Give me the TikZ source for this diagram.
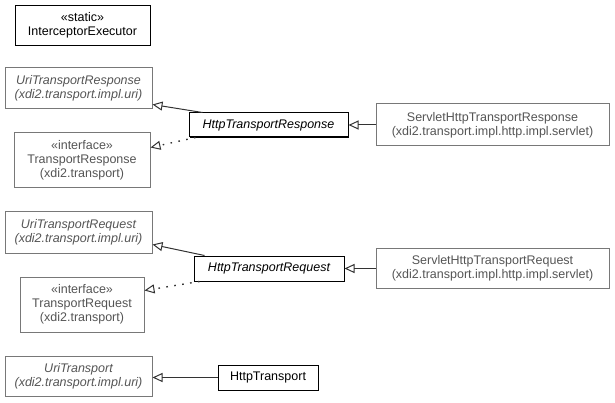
\documentclass[tikz,border=0pt]{standalone}
\usepackage{fontspec}
\setmainfont{Liberation Sans}
\usepackage{tikz}
\definecolor{lightline}{RGB}{120, 120, 120}
\definecolor{lighttext}{RGB}{85, 85, 85}
\usetikzlibrary{arrows.meta, positioning, calc, shadows}

\begin{document}
\begin{tikzpicture}[x=1pt, y=-1pt,
    box/.style={draw=black, line width=1pt, fill=white, inner sep=0pt,
                align=center, font=\fontsize{12.5}{14}\selectfont,
                drop shadow={shadow xshift=1pt, shadow yshift=-1pt, fill=black, opacity=1}},
    extbox/.style={draw=lightline, line width=1pt, fill=white, inner sep=0pt,
                align=center, text=lighttext, font=\fontsize{12.5}{14}\selectfont},
    inherit/.style={-{Triangle[open, length=10pt, width=9pt, line width=1pt]}, line width=1pt, draw=black!80},
    realize/.style={inherit, dash pattern=on 1.6pt off 6.4pt, line width=1.4pt}
]
    \useasboundingbox (0,0) rectangle (615,403);

    \node[box, minimum width=135pt, minimum height=40pt] (interceptor) at (82.5,25.5) {«static»\\InterceptorExecutor};

    % response
    \node[extbox, minimum width=147pt, minimum height=41pt] (uriresp) at (78.5,88.5) {\itshape UriTransportResponse\\\itshape (xdi2.transport.impl.uri)};
    \node[box, minimum width=159pt, minimum height=24pt] (httpresp) at (268.5,125) {\itshape HttpTransportResponse};
    \node[extbox, minimum width=233pt, minimum height=42pt] (servletresp) at (492.5,125) {ServletHttpTransportResponse\\(xdi2.transport.impl.http.impl.servlet)};
    \node[extbox, minimum width=136pt, minimum height=55pt] (iresp) at (82,160.5) {«interface»\\TransportResponse\\(xdi2.transport)};

    \draw[inherit] ([xshift=14pt]httpresp.north west) -- ([yshift=5pt]uriresp.south east);
    \draw[realize] ([xshift=7pt]httpresp.south west) -- ([yshift=13pt]iresp.east);
    \draw[inherit] (servletresp) -- (httpresp);

    % request
    \node[extbox, minimum width=147pt, minimum height=41pt] (urireq) at (78.5,232.5) {\itshape UriTransportRequest\\\itshape (xdi2.transport.impl.uri)};
    \node[box, minimum width=150pt, minimum height=25pt] (httpreq) at (269,268.5) {\itshape HttpTransportRequest};
    \node[extbox, minimum width=233pt, minimum height=40pt] (servletreq) at (492.5,268.5) {ServletHttpTransportRequest\\(xdi2.transport.impl.http.impl.servlet)};
    \node[extbox, minimum width=124pt, minimum height=55pt] (ireq) at (82,304.5) {«interface»\\TransportRequest\\(xdi2.transport)};

    \draw[inherit] ([xshift=11pt]httpreq.north west) -- ([yshift=9pt]urireq.south east);
    \draw[realize] ([xshift=6pt]httpreq.south west) -- ([yshift=14pt]ireq.east);
    \draw[inherit] (servletreq) -- (httpreq);

    % transport
    \node[extbox, minimum width=147pt, minimum height=40pt] (uri) at (78.5,376) {\itshape UriTransport\\\itshape (xdi2.transport.impl.uri)};
    \node[box, minimum width=100pt, minimum height=25pt] (http) at (268,377.5) {HttpTransport};

    \draw[inherit] (http) -- (http -| uri.east);
\end{tikzpicture}
\end{document}
